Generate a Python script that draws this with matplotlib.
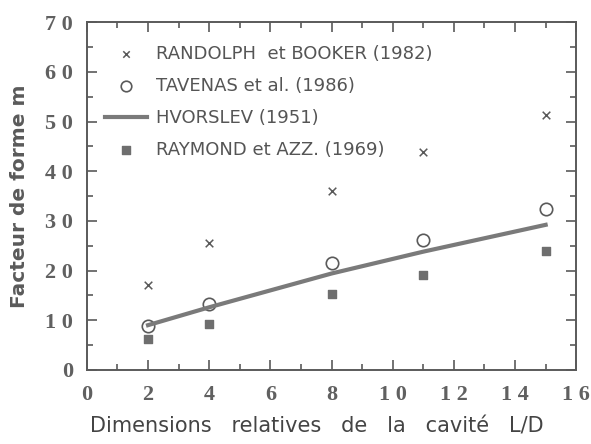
import matplotlib.pyplot as plt
import numpy as np

# relative cavity dimension L/D
ld = [2, 4, 8, 11, 15]

# shape factor m
randolph = [17, 25.5, 36, 43.8, 51.3]
tavenas = [8.9, 13.3, 21.5, 26.2, 32.3]
hvorslev = [9, 12.6, 19.4, 23.8, 29.2]
raymond = [6.2, 9.3, 15.2, 19.1, 24]

labels = ["RANDOLPH  et BOOKER (1982)", "TAVENAS et al. (1986)",
          "HVORSLEV (1951)", "RAYMOND et AZZ. (1969)"]

xticks = np.arange(0, 17, 2)
yticks = np.arange(0, 71, 10)

grey = '#5a5a5a'
fig = plt.figure(figsize=(5.91, 4.44), dpi=100)
ax = fig.add_axes([0.147, 0.167, 0.828, 0.783])

ax.scatter(ld, randolph, marker='x', s=30, c=grey, linewidths=1.1, label=labels[0])
ax.scatter(ld, tavenas, marker='o', s=80, facecolors='white', edgecolors=grey,
           linewidths=1.2, label=labels[1], zorder=3)
ax.plot(ld, hvorslev, c='#7a7a7a', lw=3, label=labels[2], zorder=4)
ax.scatter(ld, raymond, marker='s', s=40, c='#6e6e6e', label=labels[3], zorder=3)

ax.set(xlim=(0, 16), ylim=(0, 70))
ax.set_xticks(xticks)
ax.set_xticks(np.arange(1, 16, 2), minor=True)
ax.set_yticks(yticks)
ax.set_yticks(np.arange(5, 70, 10), minor=True)
# spaced-out digits like the scanned original
ax.set_xticklabels([' '.join(str(v)) for v in xticks])
ax.set_yticklabels([' '.join(str(v)) for v in yticks])
ax.tick_params(which='both', direction='in', top=True, right=True, color=grey, width=1.2)
ax.tick_params(which='major', length=7)
ax.tick_params(which='minor', length=4)
ax.tick_params(axis='x', pad=11)
ax.tick_params(axis='y', pad=10)
for lab in ax.get_xticklabels() + ax.get_yticklabels():
    lab.set_family('Liberation Serif')
    lab.set_weight('bold')
    lab.set_size(16)
    lab.set_color('#606060')
for sp in ax.spines.values():
    sp.set_color(grey)
    sp.set_linewidth(1.4)

ax.set_xlabel("Dimensions   relatives   de   la   cavité   L/D", fontsize=15,
              color='#444444', family='DejaVu Sans')
ax.set_ylabel("Facteur de forme m", fontsize=14.5, color=grey, weight='bold',
              family='DejaVu Sans')
ax.xaxis.set_label_coords(0.47, -0.135)
ax.yaxis.set_label_coords(-0.118, 0.5)

leg = ax.legend(loc='upper left', bbox_to_anchor=(0.037, 0.935), frameon=False,
                fontsize=13, labelcolor='#555555', handlelength=2.3,
                handletextpad=0.5, labelspacing=0.78, borderaxespad=0,
                borderpad=0, markerscale=0.85)

plt.savefig('out.png', dpi=100)
